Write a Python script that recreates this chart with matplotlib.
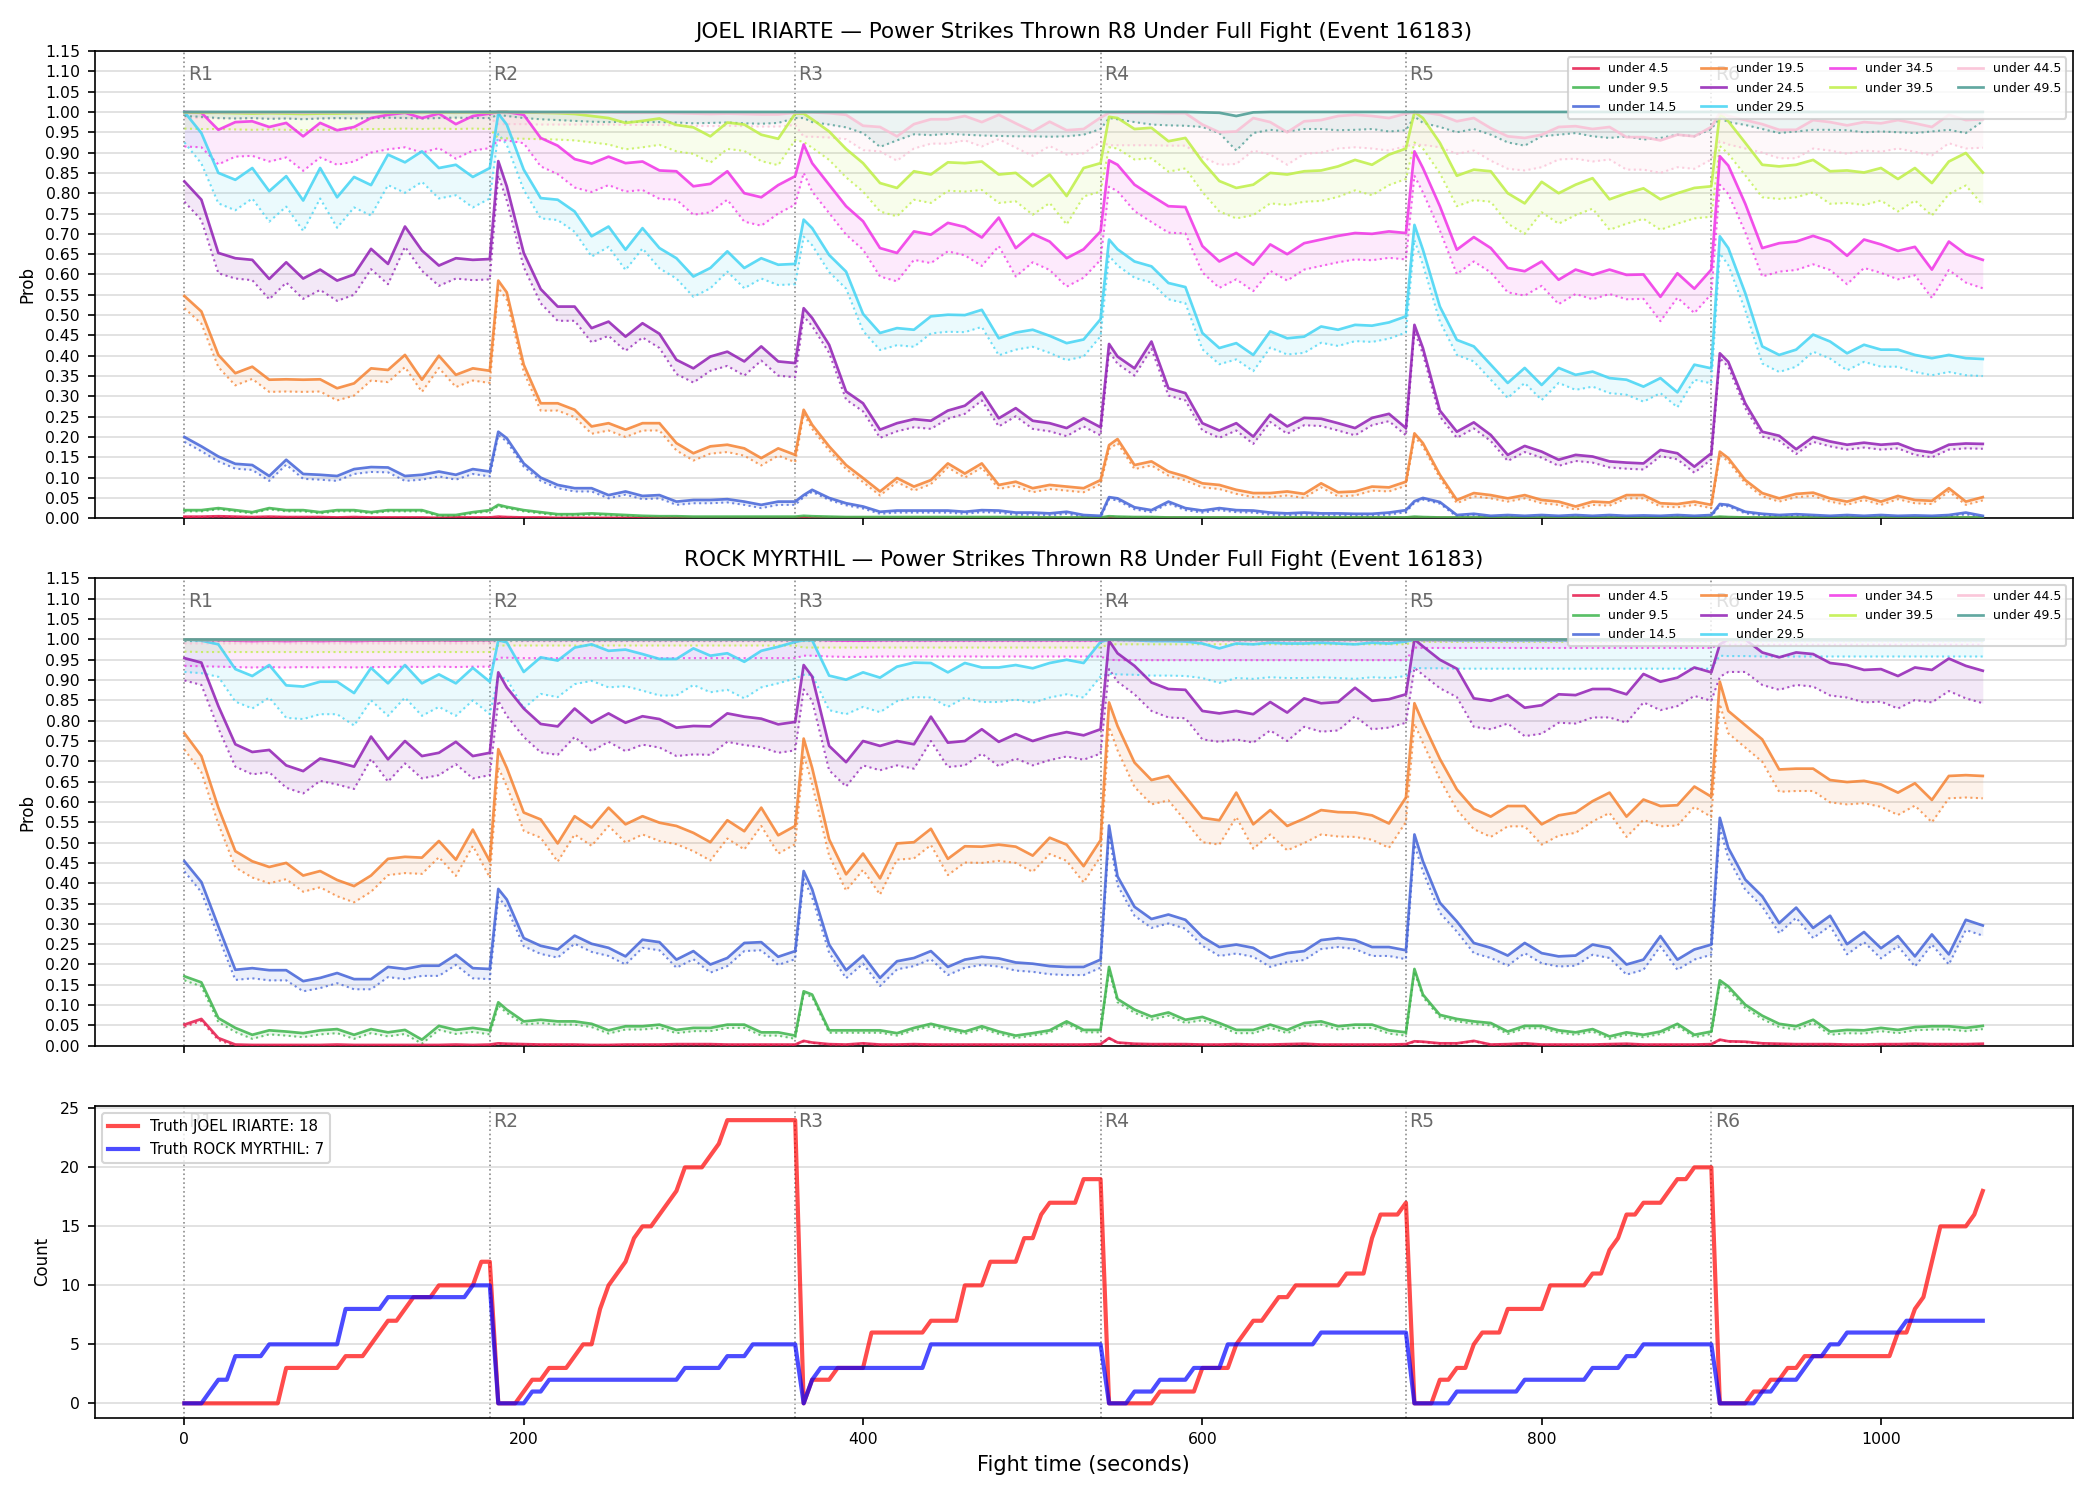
"""
Under-probability curves per fighter plus the running truth counts
"""
import numpy as np
import matplotlib.pyplot as plt

# sample times (s) of the probability curves: every 10 s plus the point right after each round start
prob_time = np.array(sorted(set(range(0, 1061, 10)) | {185, 365, 545, 725, 905}))
truth_time = np.arange(0, 1061, 5)

round_starts = [0, 180, 360, 540, 720, 900]
round_names = ["R1", "R2", "R3", "R4", "R5", "R6"]

line_labels = ["under 4.5", "under 9.5", "under 14.5", "under 19.5", "under 24.5",
               "under 29.5", "under 34.5", "under 39.5", "under 44.5", "under 49.5"]
line_colors = ["#e6194b", "#3cb44b", "#4363d8", "#f58231", "#911eb4",
               "#42d4f4", "#f032e6", "#bfef45", "#fabed4", "#469990"]

# ---- JOEL IRIARTE (one row per round) ----
joel_under_4_5 = [
    .004, .004, .005, .004, .003, .004, .003, .003, .003, .002, .003, .002, .002, .002, .002, .001, .002, .002,
    .002, .004, .003, .002, .002, .001, .001, .001, .001, .001, .001, .001, .001, .001, .001, .001, .001, .001, .001,
    .001, .002, .001, .001, .001, .001, .001, .001, .001, .001, .001, .001, .001, .001, .001, .001, .001, .001, .001,
    .001, .002, .001, .001, .001, .001, .001, .001, .001, .001, .001, .001, .001, .001, .001, .001, .001, .001, .001,
    .001, .002, .001, .001, .001, .001, .001, .001, .001, .001, .001, .001, .001, .001, .001, .001, .001, .001, .001,
    .001, .002, .001, .001, .001, .001, .001, .001, .001, .001, .001, .001, .001, .001, .001, .001, .001, .001,
]
joel_under_9_5 = [
    .020, .020, .025, .020, .015, .025, .020, .020, .015, .020, .020, .015, .020, .020, .020, .008, .008, .015,
    .020, .033, .028, .020, .015, .010, .010, .012, .010, .008, .006, .005, .005, .004, .004, .004, .004, .004, .004,
    .004, .006, .005, .004, .003, .003, .003, .003, .003, .003, .003, .003, .003, .003, .003, .002, .002, .002, .002,
    .002, .005, .004, .003, .003, .002, .002, .002, .002, .002, .002, .002, .002, .002, .002, .002, .002, .002, .002,
    .002, .004, .003, .002, .002, .002, .002, .002, .002, .002, .002, .002, .002, .002, .002, .002, .002, .002, .002,
    .002, .004, .003, .002, .002, .002, .002, .002, .002, .002, .002, .002, .002, .002, .002, .002, .002, .002,
]
joel_under_14_5 = [
    .200, .177, .152, .134, .131, .104, .144, .109, .107, .104, .121, .126, .125, .104, .107, .115, .107, .121,
    .115, .213, .197, .135, .100, .082, .074, .074, .057, .066, .055, .057, .041, .045, .045, .047, .041, .033, .041,
    .041, .057, .070, .050, .037, .029, .016, .019, .019, .019, .019, .016, .020, .019, .014, .014, .012, .016, .008,
    .006, .052, .049, .027, .020, .041, .025, .019, .025, .020, .019, .014, .012, .014, .012, .012, .011, .011, .014,
    .020, .042, .050, .040, .008, .011, .006, .008, .006, .008, .006, .008, .006, .008, .006, .007, .006, .008, .006,
    .008, .035, .033, .016, .011, .008, .010, .008, .006, .008, .006, .008, .006, .007, .006, .008, .014, .006,
]
joel_under_19_5 = [
    .547, .509, .402, .357, .373, .341, .342, .341, .342, .320, .332, .369, .365, .402, .341, .400, .353, .369,
    .363, .585, .556, .378, .283, .283, .267, .226, .234, .218, .234, .234, .185, .160, .177, .181, .172, .148, .172,
    .156, .267, .230, .177, .131, .099, .066, .099, .078, .094, .135, .110, .135, .082, .090, .074, .082, .078, .074,
    .094, .180, .195, .131, .140, .115, .103, .086, .082, .070, .062, .062, .066, .060, .086, .064, .066, .078, .076,
    .090, .209, .185, .107, .045, .062, .057, .049, .057, .045, .041, .029, .041, .039, .057, .057, .037, .035, .041,
    .033, .164, .148, .094, .062, .049, .060, .063, .049, .041, .053, .041, .055, .045, .043, .074, .041, .052,
]
joel_under_24_5 = [
    .829, .784, .653, .640, .636, .589, .630, .590, .612, .585, .600, .663, .626, .718, .659, .622, .640, .636,
    .638, .879, .817, .653, .564, .521, .521, .468, .484, .447, .480, .454, .390, .369, .398, .410, .386, .423, .386,
    .382, .517, .493, .427, .312, .283, .218, .234, .244, .240, .265, .277, .310, .246, .271, .240, .234, .222, .246,
    .224, .429, .398, .369, .435, .320, .308, .234, .216, .234, .201, .255, .226, .247, .245, .234, .222, .247, .257,
    .222, .476, .419, .265, .213, .236, .205, .156, .178, .164, .144, .156, .152, .140, .137, .135, .168, .160, .127,
    .160, .406, .385, .283, .213, .203, .170, .200, .189, .181, .186, .181, .184, .168, .162, .181, .184, .183,
]
joel_under_29_5 = [
    1.00, .948, .850, .833, .862, .805, .842, .782, .862, .790, .840, .820, .895, .876, .903, .862, .870, .840,
    .862, .996, .969, .858, .788, .784, .755, .694, .718, .661, .714, .665, .640, .595, .616, .657, .616, .640, .624,
    .626, .735, .714, .648, .607, .503, .456, .468, .464, .497, .501, .500, .513, .443, .457, .464, .449, .431, .440,
    .490, .686, .662, .632, .620, .579, .569, .456, .419, .431, .402, .460, .443, .447, .472, .464, .476, .474, .482,
    .497, .722, .661, .521, .439, .423, .378, .333, .370, .328, .370, .353, .361, .345, .341, .324, .345, .310, .378,
    .369, .694, .665, .554, .423, .402, .415, .452, .435, .406, .427, .415, .415, .402, .394, .402, .394, .392,
]
joel_under_34_5 = [
    1.00, .998, .956, .975, .977, .963, .973, .940, .973, .955, .963, .985, .993, .998, .985, .996, .970, .990,
    .996, 1.00, 1.00, .993, .936, .917, .884, .873, .890, .874, .878, .856, .854, .817, .823, .854, .800, .790, .820,
    .842, .920, .874, .821, .768, .731, .665, .653, .706, .698, .727, .717, .691, .740, .665, .700, .681, .640, .662,
    .706, .881, .870, .821, .794, .768, .766, .670, .632, .653, .624, .674, .650, .677, .686, .695, .702, .700, .706,
    .702, .903, .862, .768, .661, .692, .665, .616, .608, .632, .587, .612, .599, .612, .599, .600, .545, .603, .565,
    .612, .891, .868, .774, .665, .677, .681, .695, .681, .646, .686, .674, .658, .668, .612, .681, .650, .636,
]
joel_under_39_5 = [
    .999, .998, .998, .997, .996, .997, .996, .995, .996, .996, .997, .998, .998, .999, .998, .999, .998, .999,
    .998, 1.00, 1.00, .999, .998, .997, .995, .990, .985, .973, .978, .984, .968, .962, .940, .974, .969, .944, .934,
    .996, .996, .982, .952, .909, .874, .825, .813, .854, .846, .876, .874, .878, .846, .850, .817, .846, .793, .862,
    .874, .988, .985, .958, .961, .928, .936, .878, .830, .813, .821, .850, .846, .854, .856, .866, .882, .870, .895,
    .910, 1.00, .985, .924, .843, .858, .854, .800, .775, .828, .800, .821, .837, .785, .800, .812, .785, .800, .813,
    .817, .996, .977, .924, .870, .866, .870, .882, .854, .856, .851, .862, .835, .862, .825, .878, .899, .851,
]
joel_under_44_5 = [
    1.00, 1.00, .999, .999, .999, .999, .999, .998, .999, .999, .999, .999, 1.00, 1.00, .999, 1.00, .999, 1.00,
    1.00, 1.00, 1.00, 1.00, .999, .999, .999, .999, .999, .998, .998, .998, .997, .996, .995, .996, .995, .994, .994,
    .998, .999, .999, .997, .993, .966, .963, .940, .970, .982, .982, .990, .975, .993, .972, .952, .976, .955, .958,
    .986, .998, .998, .998, .998, .997, .997, .969, .950, .952, .985, .975, .950, .977, .980, .990, .993, .990, .985,
    .996, .999, .999, .993, .977, .985, .960, .940, .936, .944, .963, .965, .958, .963, .938, .938, .930, .944, .940,
    .963, .998, .990, .980, .970, .956, .956, .980, .975, .967, .975, .972, .980, .972, .963, .993, .980, .982,
]
joel_under_49_5 = [
    1.00, 1.00, 1.00, 1.00, 1.00, 1.00, 1.00, 1.00, 1.00, 1.00, 1.00, 1.00, 1.00, 1.00, 1.00, 1.00, 1.00, 1.00,
    1.00, 1.00, 1.00, 1.00, 1.00, 1.00, 1.00, 1.00, 1.00, 1.00, 1.00, 1.00, 1.00, 1.00, 1.00, 1.00, 1.00, 1.00, 1.00,
    1.00, 1.00, 1.00, 1.00, 1.00, 1.00, 1.00, 1.00, 1.00, 1.00, 1.00, 1.00, 1.00, 1.00, 1.00, 1.00, 1.00, 1.00, 1.00,
    1.00, 1.00, 1.00, 1.00, 1.00, 1.00, 1.00, .999, .998, .990, .999, 1.00, 1.00, 1.00, 1.00, 1.00, 1.00, 1.00, 1.00,
    1.00, 1.00, 1.00, 1.00, 1.00, 1.00, 1.00, 1.00, 1.00, 1.00, 1.00, 1.00, 1.00, 1.00, 1.00, 1.00, 1.00, 1.00, 1.00,
    1.00, 1.00, 1.00, 1.00, 1.00, 1.00, 1.00, 1.00, 1.00, 1.00, 1.00, 1.00, 1.00, 1.00, 1.00, 1.00, 1.00, 1.00,
]
# dotted lower curve of "under 49.5", read on its own
joel_under_49_5_low = [
    .990, .988, .985, .984, .985, .983, .984, .982, .984, .985, .984, .985, .986, .985, .984, .985, .986, .985,
    .985, .993, .990, .985, .982, .980, .978, .976, .975, .976, .975, .975, .974, .972, .973, .974, .972, .971, .973,
    .985, .985, .975, .969, .962, .948, .914, .930, .945, .943, .946, .944, .942, .941, .940, .940, .939, .940, .944,
    .958, .985, .982, .975, .969, .967, .966, .963, .948, .905, .948, .956, .952, .958, .958, .955, .956, .958, .952,
    .955, .989, .973, .963, .950, .958, .944, .925, .917, .940, .944, .948, .940, .936, .940, .932, .936, .944, .940,
    .958, .985, .975, .968, .958, .948, .952, .956, .956, .955, .950, .952, .950, .948, .952, .956, .948, .977,
]
# distance from each solid curve down to its dotted lower curve, per round R1..R6
joel_band = [
    [.001, .001, .001, .001, .001, .001],
    [.003, .003, .002, .001, .001, .001],
    [.012, .008, .005, .005, .004, .004],
    [.030, .018, .010, .010, .008, .008],
    [.050, .035, .020, .018, .015, .012],
    [.075, .050, .042, .040, .037, .042],
    [.085, .070, .070, .065, .060, .070],
    [.040, .065, .070, .075, .075, .080],
    [.015, .030, .060, .080, .080, .070],
    [.015, .020, .050, .040, .060, .045],
]

# ---- ROCK MYRTHIL ----
rock_under_4_5 = [
    .052, .066, .019, .003, .002, .002, .002, .002, .002, .003, .002, .002, .002, .002, .002, .002, .003, .002,
    .003, .006, .005, .004, .003, .003, .003, .002, .002, .003, .003, .003, .004, .004, .004, .003, .003, .003, .003,
    .003, .012, .008, .004, .003, .006, .003, .003, .004, .003, .003, .003, .003, .003, .003, .003, .003, .003, .003,
    .004, .019, .008, .005, .004, .004, .004, .003, .003, .004, .003, .003, .004, .005, .003, .003, .003, .003, .003,
    .004, .011, .010, .006, .006, .012, .003, .004, .006, .003, .003, .003, .003, .004, .005, .003, .003, .003, .003,
    .004, .015, .011, .010, .006, .005, .004, .004, .004, .003, .003, .004, .004, .005, .004, .004, .004, .005,
]
rock_under_9_5 = [
    .171, .156, .068, .044, .027, .038, .035, .031, .038, .041, .027, .041, .033, .039, .015, .049, .039, .044,
    .038, .107, .089, .060, .064, .060, .060, .054, .038, .048, .048, .052, .039, .044, .044, .052, .052, .033, .033,
    .025, .134, .126, .038, .038, .038, .038, .031, .044, .054, .044, .035, .048, .035, .025, .031, .038, .060, .039,
    .039, .194, .115, .089, .072, .082, .064, .071, .056, .039, .039, .052, .039, .056, .060, .048, .052, .052, .038,
    .033, .189, .126, .076, .066, .060, .056, .035, .049, .049, .038, .033, .041, .023, .033, .027, .035, .054, .027,
    .035, .161, .146, .101, .074, .054, .048, .064, .035, .039, .038, .044, .039, .046, .048, .048, .044, .049,
]
rock_under_14_5 = [
    .454, .403, .294, .187, .191, .186, .186, .159, .167, .179, .164, .164, .194, .189, .197, .197, .224, .191,
    .189, .386, .360, .265, .246, .237, .271, .251, .241, .220, .261, .255, .212, .233, .200, .216, .253, .255, .219,
    .233, .430, .385, .249, .186, .222, .167, .208, .216, .233, .194, .212, .219, .215, .205, .202, .196, .194, .194,
    .212, .542, .417, .342, .312, .323, .310, .268, .243, .249, .241, .216, .228, .233, .260, .265, .260, .243, .243,
    .235, .520, .454, .352, .306, .253, .241, .222, .253, .228, .220, .222, .249, .241, .200, .212, .270, .212, .237,
    .249, .561, .487, .409, .368, .302, .340, .290, .320, .250, .280, .240, .270, .220, .274, .225, .310, .296,
]
rock_under_19_5 = [
    .769, .713, .586, .479, .454, .440, .450, .419, .430, .408, .393, .419, .460, .465, .463, .504, .458, .532,
    .454, .730, .684, .574, .557, .498, .565, .537, .586, .545, .565, .549, .541, .524, .501, .555, .528, .586, .518,
    .541, .756, .684, .508, .422, .473, .412, .498, .501, .534, .460, .491, .490, .495, .490, .468, .512, .495, .442,
    .506, .845, .787, .697, .654, .664, .613, .561, .555, .623, .545, .580, .541, .559, .580, .575, .574, .567, .547,
    .611, .843, .795, .706, .631, .583, .564, .590, .590, .545, .567, .574, .602, .623, .564, .606, .590, .592, .638,
    .613, .896, .824, .789, .754, .680, .682, .682, .654, .649, .652, .643, .623, .646, .605, .664, .666, .664,
]
rock_under_24_5 = [
    .954, .943, .836, .742, .723, .728, .690, .676, .707, .698, .687, .761, .705, .750, .713, .721, .748, .713,
    .721, .919, .882, .830, .792, .786, .830, .795, .818, .795, .811, .804, .783, .787, .786, .818, .810, .805, .791,
    .797, .937, .909, .738, .698, .750, .738, .750, .742, .810, .746, .750, .779, .748, .767, .750, .763, .772, .764,
    .779, .997, .966, .935, .894, .878, .876, .824, .818, .824, .816, .846, .820, .855, .843, .846, .881, .849, .853,
    .865, 1.00, .983, .950, .928, .855, .849, .863, .832, .838, .865, .863, .878, .878, .865, .915, .896, .906, .931,
    .919, .988, 1.00, 1.00, .968, .956, .968, .964, .942, .937, .925, .927, .910, .931, .925, .953, .935, .923,
]
rock_under_29_5 = [
    1.00, .997, .988, .927, .910, .937, .887, .884, .896, .896, .868, .930, .892, .937, .892, .914, .892, .930,
    .896, .998, .993, .920, .956, .948, .980, .988, .972, .975, .964, .952, .952, .978, .960, .966, .945, .972, .982,
    .994, .998, .998, .911, .901, .919, .906, .933, .943, .942, .919, .942, .931, .931, .937, .929, .942, .950, .942,
    .994, 1.00, .999, .998, .996, .996, .995, .990, .978, .990, .988, .992, .990, .990, .992, .990, .988, .992, .990,
    .995, 1.00, .999, .999, .998, .998, .998, .998, .998, .998, .998, .998, .998, .998, .998, .998, .998, .998, .998,
    .998, 1.00, .999, .999, .998, .998, .998, .998, .998, .998, .998, .998, .998, .998, .998, .998, .998, .998,
]
rock_under_34_5 = [
    1.00, .999, .998, .997, .996, .997, .996, .997, .996, .997, .996, .997, .997, .998, .997, .998, .997, .998,
    .998, 1.00, 1.00, .999, .999, .999, .999, .999, .999, .999, .999, .999, .999, .999, .999, .999, .999, .999, .999,
    .999, 1.00, 1.00, .998, .997, .997, .998, .998, .998, .998, .998, .998, .998, .998, .998, .998, .998, .998, .998,
    .998, 1.00, .999, .999, .999, .999, .999, .999, .999, .999, .999, .999, .999, .999, .999, .999, .999, .999, .999,
    .999, 1.00, .999, .999, .999, .999, .999, .999, .999, .999, .999, .999, .999, .999, .999, .999, .999, .999, .999,
    .999, 1.00, .999, .999, .999, .999, .999, .999, .999, .999, .999, .999, .999, .999, .999, .999, .999, .999,
]
rock_under_39_5 = [
    1.00, .999, .999, .999, .999, .999, .999, .999, .999, .999, .999, .999, .999, .999, .999, .999, .999, .999,
    .999, 1.00, 1.00, 1.00, 1.00, 1.00, 1.00, 1.00, 1.00, 1.00, 1.00, 1.00, 1.00, 1.00, 1.00, 1.00, 1.00, 1.00, 1.00,
    1.00, 1.00, 1.00, 1.00, 1.00, 1.00, 1.00, 1.00, 1.00, 1.00, 1.00, 1.00, 1.00, 1.00, 1.00, 1.00, 1.00, 1.00, 1.00,
    1.00, 1.00, 1.00, 1.00, 1.00, 1.00, 1.00, 1.00, 1.00, 1.00, 1.00, 1.00, 1.00, 1.00, 1.00, 1.00, 1.00, 1.00, 1.00,
    1.00, 1.00, 1.00, 1.00, 1.00, 1.00, 1.00, 1.00, 1.00, 1.00, 1.00, 1.00, 1.00, 1.00, 1.00, 1.00, 1.00, 1.00, 1.00,
    1.00, 1.00, 1.00, 1.00, 1.00, 1.00, 1.00, 1.00, 1.00, 1.00, 1.00, 1.00, 1.00, 1.00, 1.00, 1.00, 1.00, 1.00,
]
rock_under_44_5 = [
    1.00, 1.00, 1.00, 1.00, 1.00, 1.00, 1.00, 1.00, 1.00, 1.00, 1.00, 1.00, 1.00, 1.00, 1.00, 1.00, 1.00, 1.00,
    1.00, 1.00, 1.00, 1.00, 1.00, 1.00, 1.00, 1.00, 1.00, 1.00, 1.00, 1.00, 1.00, 1.00, 1.00, 1.00, 1.00, 1.00, 1.00,
    1.00, 1.00, 1.00, 1.00, 1.00, 1.00, 1.00, 1.00, 1.00, 1.00, 1.00, 1.00, 1.00, 1.00, 1.00, 1.00, 1.00, 1.00, 1.00,
    1.00, 1.00, 1.00, 1.00, 1.00, 1.00, 1.00, 1.00, 1.00, 1.00, 1.00, 1.00, 1.00, 1.00, 1.00, 1.00, 1.00, 1.00, 1.00,
    1.00, 1.00, 1.00, 1.00, 1.00, 1.00, 1.00, 1.00, 1.00, 1.00, 1.00, 1.00, 1.00, 1.00, 1.00, 1.00, 1.00, 1.00, 1.00,
    1.00, 1.00, 1.00, 1.00, 1.00, 1.00, 1.00, 1.00, 1.00, 1.00, 1.00, 1.00, 1.00, 1.00, 1.00, 1.00, 1.00, 1.00,
]
rock_under_49_5 = list(rock_under_44_5)
rock_band = [
    [.005, .001, .001, .001, .001, .001],
    [.010, .008, .006, .008, .006, .008],
    [.025, .020, .020, .022, .025, .025],
    [.040, .045, .040, .060, .050, .055],
    [.055, .070, .060, .070, .070, .080],
    [.080, .090, .085, .085, .070, .040],
    [.065, .045, .040, .050, .020, .012],
    [.030, .015, .020, .012, .006, .005],
    [.010, .005, .005, .004, .003, .003],
    [.004, .003, .003, .002, .002, .002],
]

# ---- truth counts, every 5 s ----
joel_truth = [
    0, 0, 0, 0, 0, 0, 0, 0, 0, 0, 0, 0, 3, 3, 3, 3, 3, 3, 3, 4, 4, 4, 5, 6, 7, 7, 8, 9, 9, 9, 10, 10, 10, 10, 10, 12,
    12, 0, 0, 0, 1, 2, 2, 3, 3, 3, 4, 5, 5, 8, 10, 11, 12, 14, 15, 15, 16, 17, 18, 20, 20, 20, 21, 22, 24, 24, 24, 24, 24, 24, 24, 24,
    24, 0, 2, 2, 2, 3, 3, 3, 3, 6, 6, 6, 6, 6, 6, 6, 7, 7, 7, 7, 10, 10, 10, 12, 12, 12, 12, 14, 14, 16, 17, 17, 17, 17, 19, 19,
    19, 0, 0, 0, 0, 0, 0, 1, 1, 1, 1, 1, 3, 3, 3, 3, 5, 6, 7, 7, 8, 9, 9, 10, 10, 10, 10, 10, 10, 11, 11, 11, 14, 16, 16, 16,
    17, 0, 0, 0, 2, 2, 3, 3, 5, 6, 6, 6, 8, 8, 8, 8, 8, 10, 10, 10, 10, 10, 11, 11, 13, 14, 16, 16, 17, 17, 17, 18, 19, 19, 20, 20,
    20, 0, 0, 0, 0, 1, 1, 2, 2, 3, 3, 4, 4, 4, 4, 4, 4, 4, 4, 4, 4, 4, 6, 6, 8, 9, 12, 15, 15, 15, 15, 16, 18,
]
rock_truth = [
    0, 0, 0, 1, 2, 2, 4, 4, 4, 4, 5, 5, 5, 5, 5, 5, 5, 5, 5, 8, 8, 8, 8, 8, 9, 9, 9, 9, 9, 9, 9, 9, 9, 9, 10, 10,
    10, 0, 0, 0, 0, 1, 1, 2, 2, 2, 2, 2, 2, 2, 2, 2, 2, 2, 2, 2, 2, 2, 2, 3, 3, 3, 3, 3, 4, 4, 4, 5, 5, 5, 5, 5,
    5, 0, 2, 3, 3, 3, 3, 3, 3, 3, 3, 3, 3, 3, 3, 3, 5, 5, 5, 5, 5, 5, 5, 5, 5, 5, 5, 5, 5, 5, 5, 5, 5, 5, 5, 5,
    5, 0, 0, 0, 1, 1, 1, 2, 2, 2, 2, 3, 3, 3, 3, 5, 5, 5, 5, 5, 5, 5, 5, 5, 5, 5, 6, 6, 6, 6, 6, 6, 6, 6, 6, 6,
    6, 0, 0, 0, 0, 0, 1, 1, 1, 1, 1, 1, 1, 1, 2, 2, 2, 2, 2, 2, 2, 2, 3, 3, 3, 3, 4, 4, 5, 5, 5, 5, 5, 5, 5, 5,
    5, 0, 0, 0, 0, 0, 1, 1, 2, 2, 2, 3, 4, 4, 5, 5, 6, 6, 6, 6, 6, 6, 6, 7, 7, 7, 7, 7, 7, 7, 7, 7, 7,
]

joel_curves = [joel_under_4_5, joel_under_9_5, joel_under_14_5, joel_under_19_5, joel_under_24_5,
               joel_under_29_5, joel_under_34_5, joel_under_39_5, joel_under_44_5, joel_under_49_5]
rock_curves = [rock_under_4_5, rock_under_9_5, rock_under_14_5, rock_under_19_5, rock_under_24_5,
               rock_under_29_5, rock_under_34_5, rock_under_39_5, rock_under_44_5, rock_under_49_5]


def mark_rounds(ax):
    """ ラウンド開始の縦線とラベル """
    for t, name in zip(round_starts, round_names):
        ax.axvline(t, color="gray", linestyle=":", linewidth=0.8, alpha=0.9, zorder=1)
        ax.text(t + 2, 0.95, name, transform=ax.get_xaxis_transform(),
                color="dimgray", fontsize=9, va="center", ha="left")


def draw_prob_panel(ax, curves, band, title, lower_override=None):
    lower_override = lower_override or {}
    round_idx = np.clip((prob_time - 1) // 180, 0, 5)
    for i, (label, color, values, widths) in enumerate(zip(line_labels, line_colors, curves, band)):
        y = np.asarray(values, dtype=float)
        if i in lower_override:
            low = np.asarray(lower_override[i], dtype=float)
        else:
            low = np.clip(y - np.asarray(widths)[round_idx], 0, None)
        ax.fill_between(prob_time, low, y, color=color, alpha=0.1, linewidth=0, zorder=2)
        ax.plot(prob_time, low, color=color, linestyle=":", linewidth=1.0, alpha=0.75, zorder=3)
        ax.plot(prob_time, y, color=color, linewidth=1.3, alpha=0.85, label=label, zorder=4)
    ax.set_ylim(0, 1.15)
    ax.set_yticks(np.arange(0, 1.151, 0.05))
    ax.grid(axis="y", color="#dddddd", linewidth=0.8)
    ax.set_ylabel("Prob", fontsize=8)
    ax.set_title(title, fontsize=10.3)
    mark_rounds(ax)
    ax.legend(loc="upper right", ncol=4, fontsize=6, framealpha=0.8)


fig = plt.figure(figsize=(14, 10), dpi=150)
gs = fig.add_gridspec(3, 1, height_ratios=[3, 3, 2], left=0.045, right=0.987,
                      top=0.966, bottom=0.055, hspace=0.145)
ax1 = fig.add_subplot(gs[0])
ax2 = fig.add_subplot(gs[1], sharex=ax1)
ax3 = fig.add_subplot(gs[2], sharex=ax1)

draw_prob_panel(ax1, joel_curves, joel_band,
                "JOEL IRIARTE \u2014 Power Strikes Thrown R8 Under Full Fight (Event 16183)",
                lower_override={9: joel_under_49_5_low})
draw_prob_panel(ax2, rock_curves, rock_band,
                "ROCK MYRTHIL \u2014 Power Strikes Thrown R8 Under Full Fight (Event 16183)")

ax3.plot(truth_time, joel_truth, color="red", alpha=0.7, linewidth=2,
         label=f"Truth JOEL IRIARTE: {joel_truth[-1]}")
ax3.plot(truth_time, rock_truth, color="blue", alpha=0.7, linewidth=2,
         label=f"Truth ROCK MYRTHIL: {rock_truth[-1]}")
ax3.set_yticks([0, 5, 10, 15, 20, 25])
ax3.grid(axis="y", color="#dddddd", linewidth=0.8)
ax3.set_ylabel("Count", fontsize=8)
ax3.set_xlabel("Fight time (seconds)", fontsize=10)
mark_rounds(ax3)
ax3.legend(loc="upper left", fontsize=7.2, framealpha=0.8)

for ax in (ax1, ax2, ax3):
    ax.tick_params(labelsize=7.5)
for ax in (ax1, ax2):
    plt.setp(ax.get_xticklabels(), visible=False)

fig.savefig("out.png", dpi=150)
